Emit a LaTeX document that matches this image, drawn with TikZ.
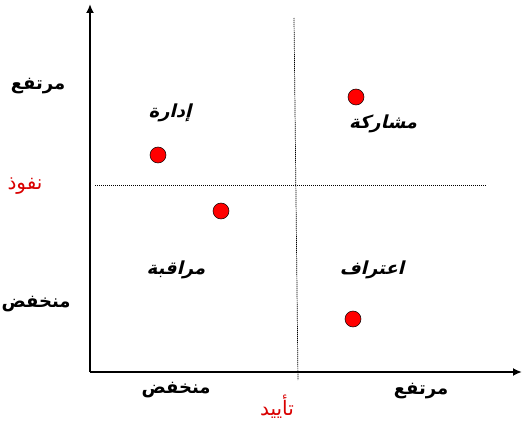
\documentclass[tikz,border=0pt]{standalone}
\usepackage{fontspec}
\usetikzlibrary{arrows.meta}
\TeXXeTstate=1
\newfontfamily\arabicfont[Script=Arabic]{DejaVu Sans}
\newfontfamily\arabicbf[Script=Arabic]{DejaVu Sans Bold}
\newfontfamily\arabicsl[Script=Arabic,FakeSlant=0.25]{DejaVu Sans Bold}
\tikzset{
  axislabel/.style={font=\arabicbf\fontsize{18}{20}\selectfont},
  quadlabel/.style={font=\arabicsl\fontsize{18}{20}\selectfont},
  axisname/.style={font=\arabicfont\fontsize{20}{22}\selectfont, text=red!85!black},
  point/.style={circle, draw=black, fill=red, line width=0.5pt, minimum size=16pt, inner sep=0pt},
  grid line/.style={line width=0.7pt, dash pattern=on 1.2pt off 0.8pt, black}
}
\begin{document}
\begin{tikzpicture}[x=1pt, y=-1pt]
    \useasboundingbox (0,0) rectangle (523,428);
    % axes
    \coordinate (origin) at (90,372);
    \coordinate (ytip) at (90,4);
    \coordinate (xtip) at (522,372);
    \draw[line width=1.8pt, -{Latex[length=9pt,width=8pt]}] (origin) -- (ytip);
    \draw[line width=1.8pt, -{Latex[length=9pt,width=8pt]}] (origin) -- (xtip);

    % quadrant lines
    \coordinate (hl) at (95,185);
    \coordinate (hr) at (486,185);
    \coordinate (vt) at (294,18);
    \coordinate (vb) at (298,380);
    \draw[grid line] (hl) -- (hr);
    \draw[grid line] (vt) -- (vb);

    % points
    \node[point] (p1) at (158,155) {};
    \node[point] (p2) at (221,211) {};
    \node[point] (p3) at (356,97) {};
    \node[point] (p4) at (353,319) {};

    % quadrant names
    \node[quadlabel] (idara) at (170,113) {\beginR إدارة\endR};
    \node[quadlabel] (musharaka) at (383,124) {\beginR مشاركة\endR};
    \node[quadlabel] (muraqaba) at (176,270) {\beginR مراقبة\endR};
    \node[quadlabel] (itiraf) at (372,270) {\beginR اعتراف\endR};

    % axis labels
    \node[axislabel] (yhigh) at (38,86) {\beginR مرتفع\endR};
    \node[axisname] (nufudh) at (25,186) {\beginR نفوذ\endR};
    \node[axislabel] (ylow) at (36,304) {\beginR منخفض\endR};
    \node[axislabel] (xlow) at (176,390) {\beginR منخفض\endR};
    \node[axislabel] (xhigh) at (421,391) {\beginR مرتفع\endR};
    \node[axisname] (tayid) at (277,407) {\beginR تأييد\endR};
\end{tikzpicture}
\end{document}
